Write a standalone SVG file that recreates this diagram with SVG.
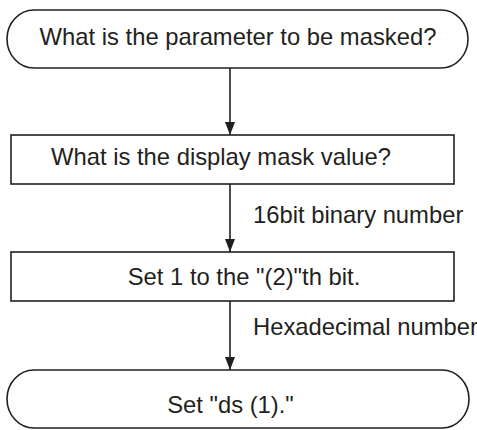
<svg xmlns="http://www.w3.org/2000/svg" width="477" height="430" viewBox="0 0 477 430">
<style>
.shape{fill:#fff;stroke:#231f20;stroke-width:1.6}
.t{font-family:"Liberation Sans",Arial,sans-serif;font-size:23.8px;fill:#231f20}
.c{text-anchor:middle}
.edge{stroke:#231f20;stroke-width:1.6;fill:none;marker-end:url(#arr)}
</style>
<defs>
<marker id="arr" markerUnits="userSpaceOnUse" markerWidth="13" markerHeight="10" refX="13" refY="5" orient="auto" viewBox="0 0 13 10">
<path d="M0,0 L13,5 L0,10 Z" fill="#231f20"/>
</marker>
</defs>
<rect width="477" height="430" fill="#fff"/>
<g id="connectors">
<line class="edge" x1="230" y1="68" x2="230" y2="135"/>
<line class="edge" x1="230" y1="184" x2="230" y2="252"/>
<text class="t" x="253" y="223">16bit binary number</text>
<line class="edge" x1="230" y1="301" x2="230" y2="370"/>
<text class="t" x="253" y="335">Hexadecimal number</text>
</g>
<g id="start">
<rect class="shape" x="7" y="10" width="461" height="58" rx="27" ry="29"/>
<text class="t c" x="238" y="44.5">What is the parameter to be masked?</text>
</g>
<g id="mask">
<rect class="shape" x="11" y="135" width="443" height="49"/>
<text class="t c" x="221" y="165">What is the display mask value?</text>
</g>
<g id="setbit">
<rect class="shape" x="11" y="252" width="443" height="49"/>
<text class="t c" x="244" y="285">Set 1 to the "(2)"th bit.</text>
</g>
<g id="end">
<rect class="shape" x="7" y="370" width="462" height="58" rx="27" ry="29"/>
<text class="t c" x="230.5" y="413">Set "ds (1)."</text>
</g>
</svg>
